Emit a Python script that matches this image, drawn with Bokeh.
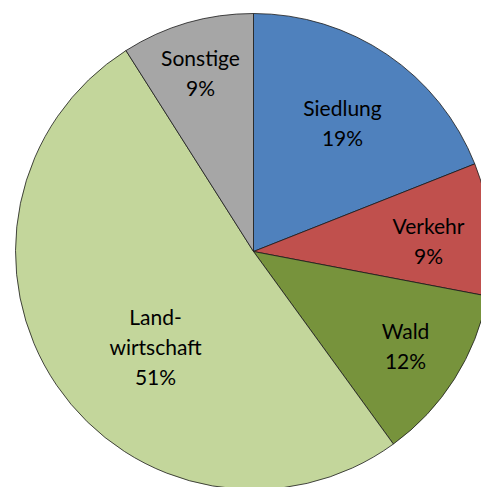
import math
from bokeh.plotting import figure
from bokeh.models import Range1d, ColumnDataSource
from bokeh.core.properties import value
from bokeh.embed import file_html
from bokeh.resources import INLINE

categories = ["Siedlung", "Verkehr", "Wald", "Landwirtschaft", "Sonstige"]
shares = [19, 9, 12, 51, 9]
label_texts = ["Siedlung\n19%", "Verkehr\n9%", "Wald\n12%", "Land-\nwirtschaft\n51%", "Sonstige\n9%"]
colors = ["#4F81BD", "#C0504D", "#77933C", "#C3D69B", "#A6A6A6"]

# layout (page pixel space, y flipped into data)
W, H = 481, 487
cx, cy, R = 253, 487 - 251, 238
label_pos = [(342, 122), (428, 240), (405, 345), (155, 346), (200, 72)]

total = sum(shares)
starts, ends = [], []
a = math.pi / 2
for s in shares:
    starts.append(a)
    a -= 2 * math.pi * s / total
    ends.append(a)

src = ColumnDataSource(dict(cat=categories, start=starts, end=ends, color=colors))

p = figure(width=W, height=H, output_backend="svg", toolbar_location=None,
           x_range=Range1d(0, W), y_range=Range1d(487 - H, 487),
           min_border=0, outline_line_color=None)
p.axis.visible = False
p.grid.visible = False
p.background_fill_color = "white"
p.border_fill_color = "white"

p.wedge(x=cx, y=cy, radius=R, start_angle="end", end_angle="start",
        fill_color="color", line_color="#1a1a1a", line_width=0.8, source=src)

lx = [pp[0] for pp in label_pos]
ly = [487 - pp[1] for pp in label_pos]
p.text(x=lx, y=ly, text=label_texts, text_align="center", text_baseline="middle",
       text_font=value("Lato"), text_font_size="21px", text_color="black",
       text_line_height=1.2)

open("out.html", "w").write(file_html(p, INLINE))
